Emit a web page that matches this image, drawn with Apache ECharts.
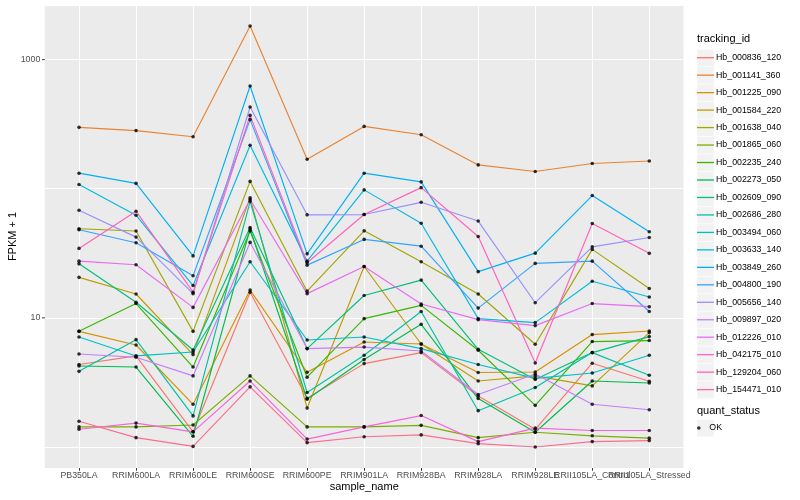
<!DOCTYPE html>
<html><head><meta charset="utf-8">
<script src="https://cdn.jsdelivr.net/npm/echarts@6/dist/echarts.min.js"></script>
<style>html,body{margin:0;padding:0;background:#fff}#c{width:800px;height:500px}</style>
</head><body><div id="c"></div>
<script>
// ---- data ----
const samples = ['PB350LA','RRIM600LA','RRIM600LE','RRIM600SE','RRIM600PE','RRIM901LA','RRIM928BA','RRIM928LA','RRIM928LE','RRII105LA_Control','RRII105LA_Stressed'];
const trackingIds = ['Hb_000836_120','Hb_001141_360','Hb_001225_090','Hb_001584_220','Hb_001638_040','Hb_001865_060','Hb_002235_240','Hb_002273_050','Hb_002609_090','Hb_002686_280','Hb_003494_060','Hb_003633_140','Hb_003849_260','Hb_004800_190','Hb_005656_140','Hb_009897_020','Hb_012226_010','Hb_042175_010','Hb_129204_060','Hb_154471_010'];
const yTickLabels = [10, 1000];

const Hb_000836_120 = [4.35, 5.07, 1.31, 15.8, 2.38, 4.42, 5.38, 2.48, 1.37, 4.45, 3.23];
const Hb_001141_360 = [299, 282, 253, 1820, 169, 304, 262, 153, 136, 157, 164];
const Hb_001225_090 = [7.86, 6.16, 2.14, 16.4, 3.79, 6.50, 6.27, 3.77, 3.81, 7.42, 7.91];
const Hb_001584_220 = [20.6, 15.3, 5.19, 85, 2.00, 25.0, 6.27, 3.24, 3.55, 2.97, 7.69];
const Hb_001638_040 = [49, 47.1, 7.86, 114, 16.1, 47.2, 27.2, 15.3, 6.24, 33.9, 16.9];
const Hb_001865_060 = [1.43, 1.43, 1.48, 3.55, 1.43, 1.43, 1.47, 1.18, 1.30, 1.22, 1.17];
const Hb_002235_240 = [7.86, 12.9, 4.16, 47.1, 3.47, 9.86, 12.5, 5.61, 2.10, 6.55, 6.67];
const Hb_002273_050 = [4.24, 4.16, 1.21, 48.8, 2.34, 4.75, 8.91, 2.37, 1.30, 3.24, 3.13];
const Hb_002609_090 = [26.2, 13.2, 5.64, 50.1, 5.78, 14.9, 19.6, 5.71, 3.33, 5.38, 7.16];
const Hb_002686_280 = [3.85, 6.78, 1.74, 79.6, 2.64, 5.13, 11.2, 1.91, 2.89, 5.38, 3.59];
const Hb_003494_060 = [7.11, 5.07, 5.44, 27.2, 6.74, 7.11, 5.78, 4.35, 3.40, 3.74, 5.13];
const Hb_003633_140 = [108, 62.4, 17.8, 217, 27.5, 98, 54.1, 9.86, 9.18, 19.2, 14.5];
const Hb_003849_260 = [132, 110, 30.2, 625, 31.3, 132, 113, 22.8, 31.7, 88.6, 46.4];
const Hb_004800_190 = [48.1, 38.2, 21.2, 343, 25.6, 40.5, 35.9, 11.9, 26.4, 27.5, 11.2];
const Hb_005656_140 = [68.2, 42.2, 15.4, 430, 62.8, 63.1, 78.5, 56.2, 13.1, 35.5, 41.9];
const Hb_009897_020 = [5.25, 4.95, 3.55, 38.4, 5.78, 5.94, 5.54, 2.55, 3.67, 2.14, 1.94];
const Hb_012226_010 = [27.5, 25.8, 12.05, 82.5, 15.4, 25.0, 12.8, 9.68, 8.71, 12.9, 12.2];
const Hb_042175_010 = [1.37, 1.53, 1.31, 3.24, 1.15, 1.43, 1.75, 1.10, 1.40, 1.34, 1.34];
const Hb_129204_060 = [34.5, 67, 15.8, 370, 26.7, 63.1, 102, 42.7, 4.47, 53.8, 31.6];
const Hb_154471_010 = [1.58, 1.18, 1.01, 2.92, 1.08, 1.20, 1.24, 1.06, 1.00, 1.10, 1.12];

const seriesValues = [Hb_000836_120, Hb_001141_360, Hb_001225_090, Hb_001584_220, Hb_001638_040, Hb_001865_060, Hb_002235_240, Hb_002273_050, Hb_002609_090, Hb_002686_280, Hb_003494_060, Hb_003633_140, Hb_003849_260, Hb_004800_190, Hb_005656_140, Hb_009897_020, Hb_012226_010, Hb_042175_010, Hb_129204_060, Hb_154471_010];

// ---- style ----
const colors = ['#F8766D','#EA8331','#D89000','#C09B00','#A3A500','#7CAE00','#39B600','#00BB4E','#00BF7D','#00C1A3','#00BFC4','#00BAE0','#00B0F6','#35A2FF','#9590FF','#C77CFF','#E76BF3','#FA62DB','#FF62BC','#FF6C91'];
const FONT = '"Liberation Sans", Arial, Helvetica, sans-serif';
const xIdx = samples.map((s, i) => i);
const xEven = xIdx.filter(i => i % 2 === 0);
const xOdd = xIdx.filter(i => i % 2 === 1);

const chart = echarts.init(document.getElementById('c'), null, {renderer: 'canvas'});

const series = trackingIds.map((id, k) => ({
  name: id, type: 'line', symbol: 'none', showSymbol: false, silent: true,
  data: seriesValues[k].map((v, i) => [i, v]),
  lineStyle: {width: 1.15, color: colors[k]}, itemStyle: {color: colors[k]}, z: 2
}));
const okPoints = [];
seriesValues.forEach(arr => arr.forEach((v, i) => okPoints.push([i, v])));
series.push({name: 'OK', type: 'scatter', data: okPoints, symbol: 'circle', symbolSize: 3.6, silent: true,
  itemStyle: {color: '#000000'}, z: 3});

const keyRects = [];
for (let i = 0; i < trackingIds.length; i++) {
  keyRects.push({type: 'rect', silent: true, z: 0, shape: {x: 697, y: 49.3 + i * 17.47, width: 17, height: 17.3},
    style: {fill: '#F2F2F2', stroke: '#FFFFFF', lineWidth: 0.5}});
}
keyRects.push({type: 'rect', silent: true, z: 0, shape: {x: 697, y: 419.5, width: 17, height: 17.3},
  style: {fill: '#F2F2F2', stroke: '#FFFFFF', lineWidth: 0.5}});
const titleTexts = [
  {type: 'text', x: 697, y: 38.5, silent: true, style: {text: 'tracking_id', fontSize: 11, fill: '#000000', fontFamily: FONT, verticalAlign: 'middle'}},
  {type: 'text', x: 697, y: 410.5, silent: true, style: {text: 'quant_status', fontSize: 11, fill: '#000000', fontFamily: FONT, verticalAlign: 'middle'}},
  {type: 'text', x: 364.2, y: 487, silent: true, style: {text: 'sample_name', fontSize: 11, fill: '#000000', fontFamily: FONT, align: 'center', verticalAlign: 'middle'}},
  {type: 'text', x: 13, y: 236.5, rotation: Math.PI / 2, silent: true, style: {text: 'FPKM + 1', fontSize: 11, fill: '#000000', fontFamily: FONT, align: 'center', verticalAlign: 'middle'}}
];

const labelStyle = {color: '#4D4D4D', fontSize: 8.8, margin: 3.5, fontFamily: FONT, formatter: v => samples[Math.round(v)]};

const option = {
  animation: false,
  backgroundColor: '#FFFFFF',
  textStyle: {fontFamily: FONT},
  grid: {left: 44.8, right: 116.5, top: 5, bottom: 32, show: true, backgroundColor: '#EBEBEB', borderWidth: 0,
    containLabel: false, outerBoundsMode: 'none'},
  xAxis: [{
    type: 'value', min: -0.6, max: 10.6, position: 'bottom',
    axisLine: {show: false},
    axisTick: {show: true, length: 2.7, lineStyle: {color: '#333333', width: 1}, customValues: xIdx},
    axisLabel: Object.assign({customValues: xEven}, labelStyle),
    splitLine: {show: true, lineStyle: {color: '#FFFFFF', width: 1.07}}
  }, {
    type: 'value', min: -0.6, max: 10.6, position: 'bottom', offset: 0,
    axisLine: {show: false}, axisTick: {show: false}, splitLine: {show: false},
    axisLabel: Object.assign({customValues: xOdd}, labelStyle)
  }],
  yAxis: [{
    type: 'log', logBase: 10, min: 0.687, max: 2650,
    axisLine: {show: false},
    axisTick: {show: false},
    axisLabel: {customValues: yTickLabels, formatter: v => String(Math.round(v)), color: '#4D4D4D', fontSize: 8.8, margin: 4.5, fontFamily: FONT},
    splitLine: {show: true, lineStyle: {color: '#FFFFFF', width: 1.07}}
  }, {
    type: 'log', logBase: 10, min: 0.687, max: 2650, position: 'left', offset: 0,
    axisLine: {show: false}, axisTick: {show: false}, axisLabel: {show: false},
    splitLine: {show: true, lineStyle: {color: '#FFFFFF', width: 0.53}}
  }],
  legend: [{
    data: trackingIds, orient: 'vertical', left: 697, top: 49.2, padding: 0,
    itemWidth: 17, itemHeight: 1.3, itemGap: 0.47, icon: 'rect', selectedMode: false,
    textStyle: {fontSize: 8.8, color: '#000000', lineHeight: 17, fontFamily: FONT, padding: [0, 0, 0, -3]}
  }, {
    data: ['OK'], orient: 'vertical', left: 697, top: 419.5, padding: 0,
    itemWidth: 17, itemHeight: 3.6, icon: 'circle', selectedMode: false,
    textStyle: {fontSize: 8.8, color: '#000000', lineHeight: 17, fontFamily: FONT, padding: [0, 0, 0, -3]}
  }],
  graphic: keyRects.concat(titleTexts),
  series: series
};
chart.setOption(option);

// y-axis tick marks at the labelled values, positioned through the axis scale
const yTicks = yTickLabels.map(v => {
  const py = chart.convertToPixel({yAxisIndex: 0}, v);
  return {type: 'line', silent: true, z: 5, shape: {x1: 42.1, y1: py, x2: 44.8, y2: py}, style: {stroke: '#333333', lineWidth: 1}};
});
chart.setOption({graphic: keyRects.concat(titleTexts, yTicks)}, {replaceMerge: ['graphic']});
</script>
</body></html>
